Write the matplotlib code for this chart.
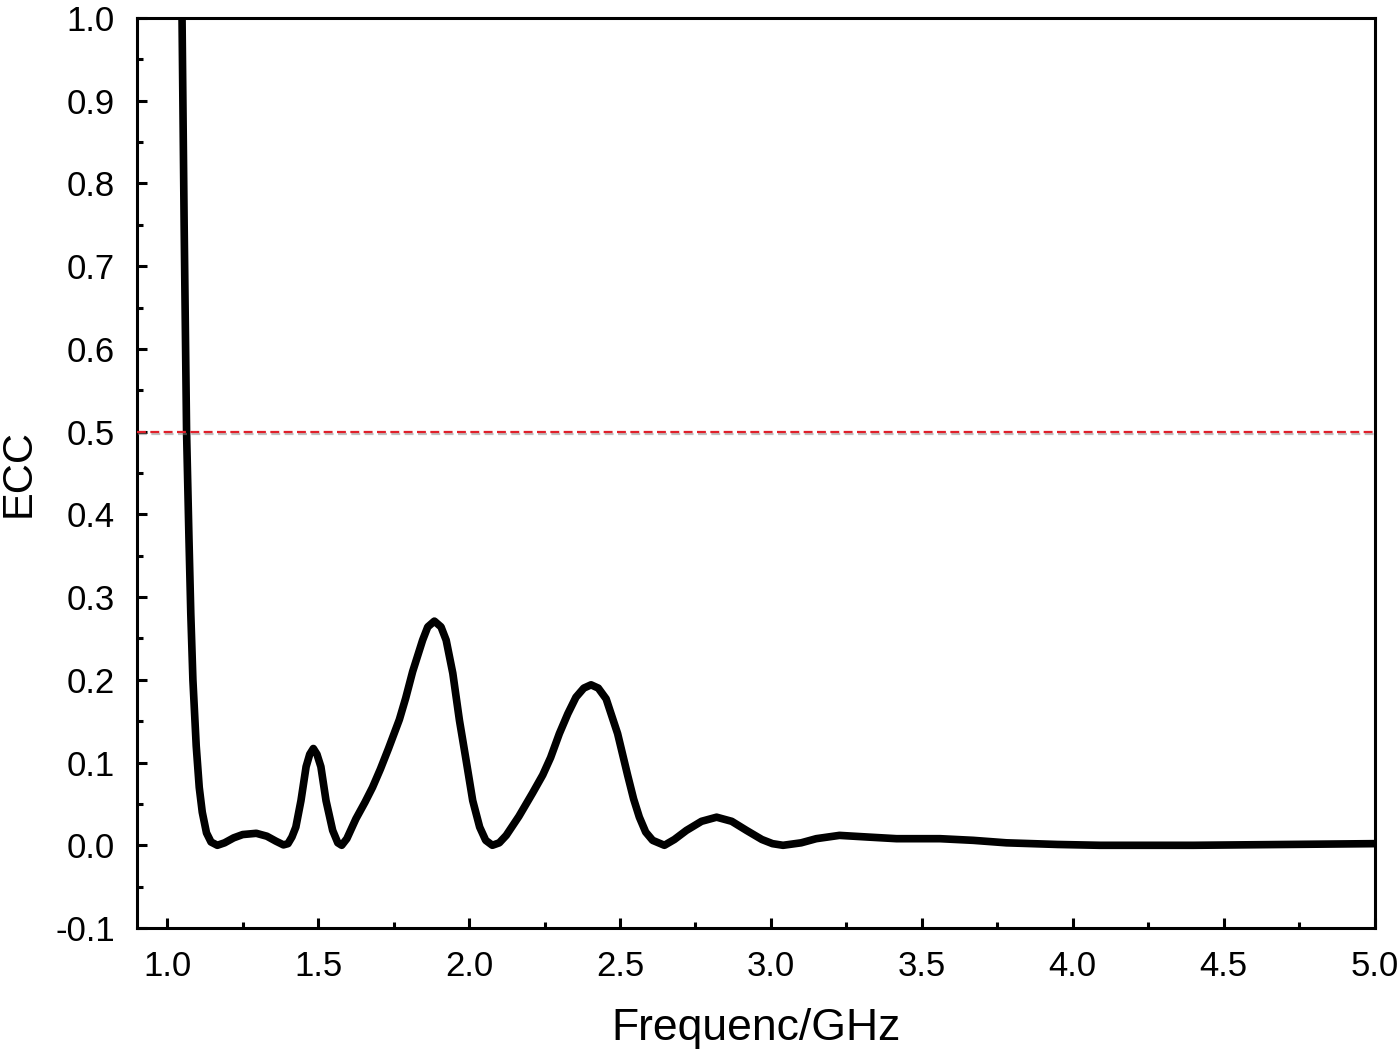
import matplotlib
matplotlib.use("Agg")
import matplotlib.pyplot as plt
import matplotlib.patheffects as pe
from matplotlib.ticker import MultipleLocator, FormatStrFormatter

plt.rcParams['font.family'] = ['Liberation Sans', 'DejaVu Sans']
plt.rcParams['axes.unicode_minus'] = False

freq = [1.043, 1.049, 1.056, 1.064, 1.072, 1.078, 1.085, 1.096, 1.106, 1.116, 1.13, 1.145, 1.166,
        1.19, 1.22, 1.25, 1.295, 1.33, 1.36, 1.385, 1.4, 1.413, 1.426, 1.443, 1.46, 1.472, 1.484,
        1.496, 1.509, 1.526, 1.548, 1.565, 1.578, 1.595, 1.625, 1.655, 1.68, 1.706, 1.733, 1.769,
        1.79, 1.813, 1.846, 1.863, 1.885, 1.907, 1.924, 1.946, 1.968, 1.99, 2.012, 2.035, 2.055,
        2.077, 2.1, 2.123, 2.165, 2.21, 2.244, 2.27, 2.299, 2.327, 2.354, 2.38, 2.404, 2.428, 2.454,
        2.492, 2.525, 2.545, 2.564, 2.585, 2.608, 2.647, 2.68, 2.72, 2.77, 2.82, 2.87, 2.919, 2.97,
        3.005, 3.04, 3.1, 3.15, 3.227, 3.32, 3.416, 3.56, 3.67, 3.78, 3.95, 4.09, 4.4, 4.7, 5.0]
ecc = [1.2, 1.0, 0.75, 0.5, 0.37, 0.28, 0.2, 0.12, 0.07, 0.04, 0.015, 0.004, 0.0,
       0.003, 0.009, 0.013, 0.0145, 0.011, 0.005, 0.0005, 0.002, 0.01, 0.022, 0.054, 0.095, 0.11, 0.117,
       0.11, 0.095, 0.054, 0.018, 0.003, 0.0, 0.008, 0.032, 0.052, 0.07, 0.092, 0.117, 0.152,
       0.178, 0.21, 0.248, 0.264, 0.271, 0.264, 0.248, 0.208, 0.151, 0.103, 0.054, 0.022, 0.006,
       0.0, 0.003, 0.012, 0.035, 0.063, 0.085, 0.106, 0.135, 0.159, 0.179, 0.19, 0.194, 0.19, 0.177,
       0.135, 0.085, 0.056, 0.034, 0.016, 0.006, 0.0, 0.007, 0.018, 0.029, 0.034, 0.029, 0.018, 0.007,
       0.002, 0.0, 0.003, 0.008, 0.012, 0.01, 0.008, 0.008, 0.006, 0.003, 0.001, 0.0, 0.0, 0.001, 0.002]

ref_level = 0.5

fig = plt.figure(figsize=(14, 10.6), dpi=100)
ax = fig.add_axes([0.0979, 0.1245, 0.884, 0.8585])

ax.plot(freq, ecc, color='black', lw=5.5, solid_joinstyle='round', solid_capstyle='round', zorder=3)
ax.axhline(ref_level, color='#e0202a', lw=1.6, ls=(0, (4, 2)), zorder=4,
           path_effects=[pe.SimpleLineShadow(offset=(0.8, -1.6), shadow_color='gray', alpha=0.5), pe.Normal()])

ax.set_xlim(0.9, 5.0)
ax.set_ylim(-0.1, 1.0)
ax.xaxis.set_major_locator(MultipleLocator(0.5))
ax.xaxis.set_minor_locator(MultipleLocator(0.25))
ax.yaxis.set_major_locator(MultipleLocator(0.1))
ax.yaxis.set_minor_locator(MultipleLocator(0.05))
ax.xaxis.set_major_formatter(FormatStrFormatter('%.1f'))
ax.yaxis.set_major_formatter(FormatStrFormatter('%.1f'))

for s in ax.spines.values():
    s.set_linewidth(2.2)
ax.tick_params(which='both', direction='in', top=False, right=False, width=2.2, labelsize=25)
ax.tick_params(which='major', length=7.5, pad=16)
ax.tick_params(which='minor', length=4.5)

ax.set_xlabel('Frequenc/GHz', fontsize=32, labelpad=18)
ax.set_ylabel('ECC', fontsize=30, labelpad=12)

fig.savefig('out.png', dpi=100)
